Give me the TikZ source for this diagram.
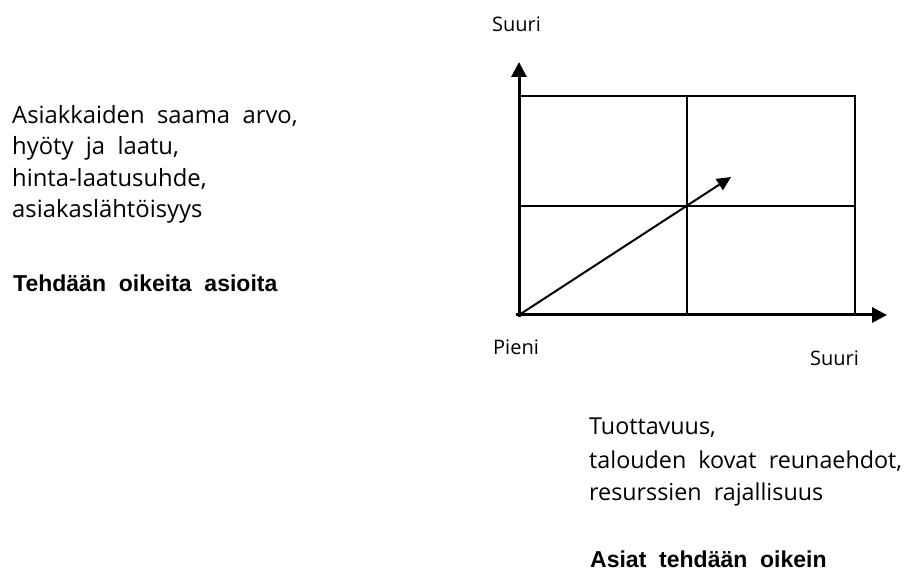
\documentclass[tikz,border=0pt]{standalone}
\usepackage{fontspec}
\setmainfont{Open Sans}
\newfontfamily\boldface{Liberation Sans}
\usetikzlibrary{arrows.meta}
\begin{document}
\begin{tikzpicture}[x=1pt,y=-1pt,
  txt/.style={inner sep=0pt,anchor=base west,font=\fontsize{23.8}{31}\selectfont},
  rtxt/.style={inner sep=0pt,anchor=base west,font=\fontsize{23.3}{31}\selectfont},
  btxt/.style={inner sep=0pt,anchor=base west,font=\boldface\bfseries\fontsize{23}{31}\selectfont},
  lbl/.style={inner sep=0pt,anchor=base west,font=\fontsize{20}{24}\selectfont},
  axis/.style={line width=3pt,-{Triangle[length=15pt,width=15pt]}},
  grid/.style={line width=1.4pt},
  diag/.style={line width=2pt,-{Triangle[length=14pt,width=13pt]}}]
\useasboundingbox (0,0) rectangle (906,572);
% coordinates
\coordinate (O) at (519,315);
\coordinate (ytip) at (519,62);
\coordinate (xtip) at (887,315);
\coordinate (xstart) at (516,315);
\coordinate (ystart) at (519,317);
\coordinate (dtip) at (731,177);
\coordinate (TL) at (519,96);
\coordinate (BR) at (855,315);
% grid
\draw[grid] (TL) rectangle (BR);
\draw[grid] (687,96) coordinate (mt) -- (687,315) coordinate (mb);
\draw[grid] (519,206) coordinate (ml) -- (855,206) coordinate (mr);
% axes
\draw[axis] (ystart) -- (ytip);
\draw[axis] (xstart) -- (xtip);
\draw[diag] (O) -- (dtip);
% labels
\node[lbl] (ysuuri) at (492,32) {Suuri};
\node[lbl] (pieni) at (493,355) {Pieni};
\node[lbl] (xsuuri) at (810,366) {Suuri};
% left text
\node[txt] (l1) at (12,124) {Asiakkaiden\ \ saama\ \ arvo,};
\node[txt] (l2) at (12,155) {hyöty\ \ ja\ \ laatu,};
\node[txt] (l3) at (12,187) {hinta-laatusuhde,};
\node[txt] (l4) at (12,218) {asiakaslähtöisyys};
\node[btxt] (lefth) at (13,292) {Tehdään\ \ oikeita\ \ asioita};
% right text
\node[rtxt] (r1) at (589,435) {Tuottavuus,};
\node[rtxt] (r2) at (589,468) {talouden\ \ kovat\ \ reunaehdot,};
\node[rtxt] (r3) at (589,500) {resurssien\ \ rajallisuus};
\node[btxt] (righth) at (590,567) {Asiat\ \ tehdään\ \ oikein};
\end{tikzpicture}
\end{document}
